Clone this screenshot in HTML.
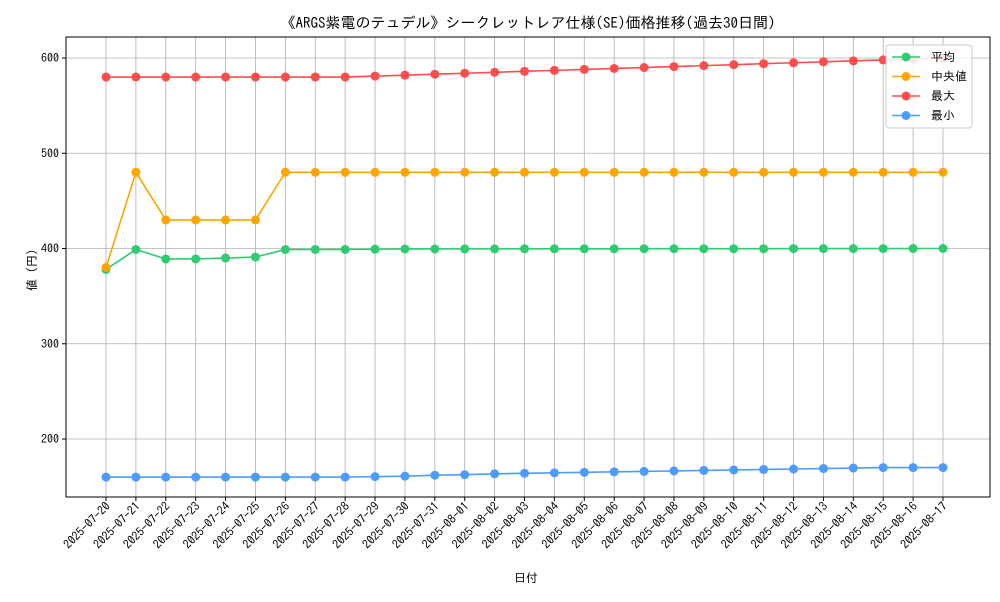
<!DOCTYPE html>
<html><head><meta charset="utf-8"><style>
body{margin:0;background:#fff;font-family:"IPAGothic","Noto Sans CJK JP",sans-serif}
</style></head><body>
<svg id="c" width="1000" height="600" xmlns="http://www.w3.org/2000/svg" font-family="IPAGothic, Noto Sans CJK JP, sans-serif"></svg>
<script>
const dates=["2025-07-20","2025-07-21","2025-07-22","2025-07-23","2025-07-24","2025-07-25","2025-07-26","2025-07-27","2025-07-28","2025-07-29","2025-07-30","2025-07-31","2025-08-01","2025-08-02","2025-08-03","2025-08-04","2025-08-05","2025-08-06","2025-08-07","2025-08-08","2025-08-09","2025-08-10","2025-08-11","2025-08-12","2025-08-13","2025-08-14","2025-08-15","2025-08-16","2025-08-17"];
const avgVals=[378,399,389,389,390,391,399,399,399,399.3,399.5,399.5,399.6,399.6,399.7,399.7,399.7,399.7,399.8,399.8,399.8,399.8,399.8,399.9,399.9,399.9,399.9,400,400];
const medVals=[380,480,430,430,430,430,480,480,480,480,480,480,480,480,480,480,480,480,480,480,480,480,480,480,480,480,480,480,480];
const maxVals=[580,580,580,580,580,580,580,580,580,581,582,583,584,585,586,587,588,589,590,591,592,593,594,595,596,597,598,599,600];
const minVals=[160,160,160,160,160,160,160,160,160,160.5,161,162,162.5,163.5,164,164.5,165,165.5,166,166.5,167,167.5,168,168.5,169,169.5,170,170,170];
const yTicks=[200,300,400,500,600];
const seriesNames=["平均","中央値","最大","最小"];
const colors=["#2ecc71","#ffa500","#ff4d4d","#4d9bff"];
const L=66,R=990,T=37,B=497;
const x=i=>106+i*(943-106)/(dates.length-1);
const y=v=>58+(600-v)*0.9525;
const svg=document.getElementById('c');const NS="http://www.w3.org/2000/svg";
function mk(t,a,p){const e=document.createElementNS(NS,t);for(const k in a)e.setAttribute(k,a[k]);(p||svg).appendChild(e);return e;}
let e;
e=mk('text',{x:528,y:28,'text-anchor':'middle','font-size':15});e.textContent="《ARGS紫電のテュデル》シークレットレア仕様(SE)価格推移(過去30日間)";


const grid=mk('g',{stroke:'#b0b0b0','stroke-width':0.8});


dates.forEach((d,i)=>{mk('line',{x1:x(i),x2:x(i),y1:T,y2:B},grid);
 mk('line',{x1:x(i),x2:x(i),y1:B,y2:B+4,stroke:'#000'});
 const t=mk('text',{x:0,y:0,'font-size':12,'text-anchor':'end',transform:`translate(${x(i)+5},${B+10}) rotate(-45)`});t.textContent=d;
 
 });
yTicks.forEach(v=>{mk('line',{x1:L,x2:R,y1:y(v),y2:y(v)},grid);
 mk('line',{x1:L-4,x2:L,y1:y(v),y2:y(v),stroke:'#000'});
 const t=mk('text',{x:L-7,y:y(v)+4,'font-size':12,'text-anchor':'end'});t.textContent=v;
 
 });
e=mk('rect',{x:L,y:T,width:R-L,height:B-T,fill:'none',stroke:'#000','stroke-width':1});


e=mk('text',{x:526,y:582,'text-anchor':'middle','font-size':12});e.textContent="日付";


e=mk('text',{x:0,y:0,'text-anchor':'middle','font-size':12,transform:'translate(36,270) rotate(-90)'});e.textContent="値 (円)";


[avgVals,medVals,maxVals,minVals].forEach((vals,s)=>{
 const g=mk('g',{});
 
 
 mk('polyline',{points:vals.map((v,i)=>x(i)+','+y(v)).join(' '),fill:'none',stroke:colors[s],'stroke-width':1.6},g);
 vals.forEach((v,i)=>{const c=mk('circle',{cx:x(i),cy:y(v),r:4.5,fill:colors[s]},g);
  
  });
});
const lg=mk('g',{});


mk('rect',{x:886,y:45,width:86,height:83,rx:3,fill:'#fff','fill-opacity':0.85,stroke:'#ccc'},lg);
seriesNames.forEach((n,s)=>{const yy=57+s*19.5;
 mk('line',{x1:892,x2:920,y1:yy,y2:yy,stroke:colors[s],'stroke-width':1.6},lg);
 mk('circle',{cx:906,cy:yy,r:4.5,fill:colors[s]},lg);
 const t=mk('text',{x:931,y:yy+4,'font-size':12},lg);t.textContent=n;
 
 });
</script></body></html>
